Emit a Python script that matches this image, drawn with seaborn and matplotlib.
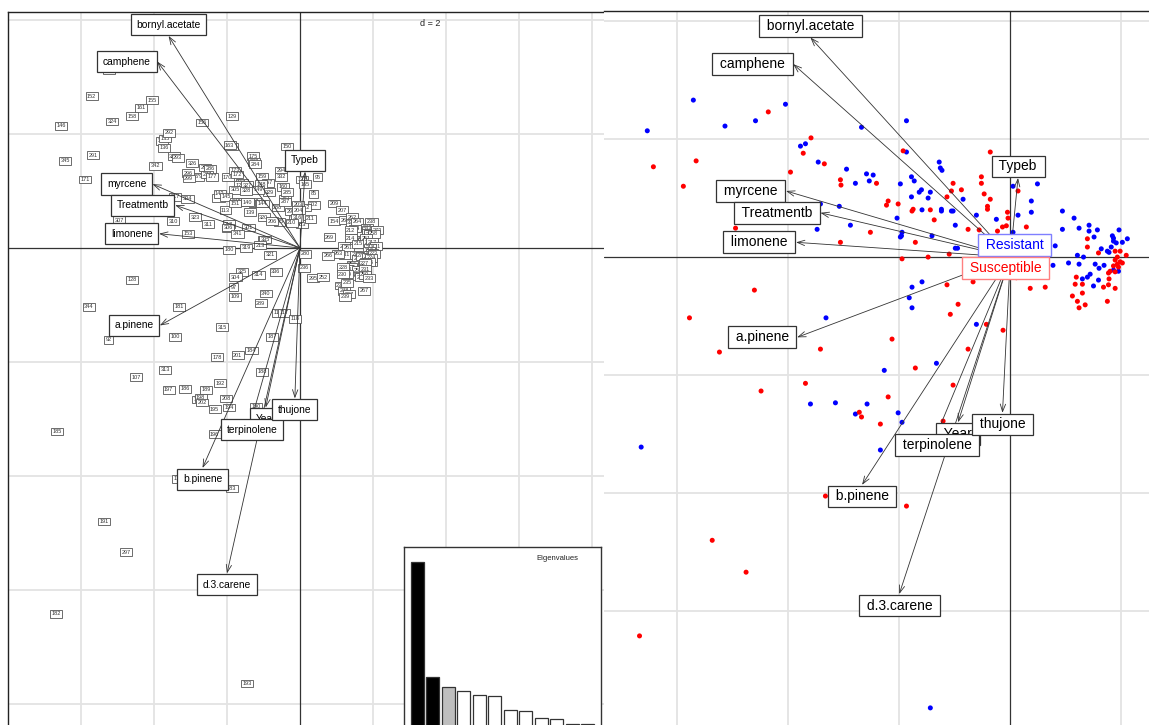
import numpy as np
import pandas as pd
import matplotlib
matplotlib.use("Agg")
import matplotlib.pyplot as plt
import seaborn as sns

sns.set_theme(style="white")
plt.rcParams['font.family'] = ['Liberation Sans', 'DejaVu Sans']

# Row scores on principal axes 1 and 2, Resistant trees
res_x = [-5.23, -5.71, -5.14, -4.59, -4.05, -6.54, -2.68, -3.78, -3.69, -3.46,
         -2.95, -2.79, -2.59, -2.47, -2.54, -1.98, -3.42, -3.08, -2.04, -2.88,
         -3.48, -1.95, -1.98, -1.87, -1.87, -1.28, -1.26, -1.23, -1.78, -1.73,
         -1.60, -1.64, -1.44, 0.49, 0.05, -0.85, -1.78, -1.48, -1.59, -1.24,
         -1.24, -1.06, -1.03, 0.38, 0.38, -0.61, 0.14, -0.25, -0.99, 0.05,
         0.94, 1.15, 0.94, 1.24, 1.42, 1.42, 1.57, 1.96, 1.84, 1.86,
         1.86, 1.91, 2.11, 2.02, 1.51, -1.96, -1.41, -0.99, -0.95, 0.81,
         1.64, 1.75, 1.78, 1.82, 1.21, 1.32, 1.24, 1.53, 1.60, 1.69,
         1.95, 1.86, 1.05, 1.44, 1.39, 1.30, 1.59, 1.50, 0.77, -1.59,
         -1.77, -1.82, -1.77, -0.61, -1.33, -3.32, -2.27, -3.60, -3.15, -2.58,
         -2.79, -2.02, -1.95, -2.34, -6.65, -1.44, 0.14]
res_y = [3.12, 2.66, 2.22, 2.31, 2.59, 2.14, 2.20, 1.88, 1.92, 1.61,
         1.49, 1.25, 1.41, 1.39, 1.29, 1.24, 0.90, 0.86, 0.66, 0.54,
         0.47, 0.42, 0.34, 2.31, 1.78, 1.61, 1.51, 1.47, 1.36, 1.29,
         1.14, 1.10, 1.10, 1.24, 1.20, 0.98, 1.02, 1.00, 0.80, 0.81,
         0.78, 0.78, 0.78, 0.95, 0.76, 0.71, 0.71, 0.64, 0.54, 0.42,
         0.78, 0.66, 0.47, 0.49, 0.54, 0.44, 0.46, 0.46, 0.36, 0.32,
         0.27, 0.24, 0.31, 0.25, 0.34, 0.36, 0.36, 0.15, 0.15, 0.19,
         0.14, 0.10, 0.08, 0.17, 0.03, 0.00, -0.12, -0.12, -0.19, -0.14,
         -0.24, -0.22, -0.10, -0.29, -0.34, -0.37, -0.39, -0.49, -0.14, -0.42,
         -0.51, -0.69, -0.86, -1.14, -1.80, -1.03, -1.92, -2.49, -2.47, -2.49,
         -2.66, -2.64, -2.80, -3.27, -3.22, -7.64, -0.10]
res_id = [176, 152, 324, 158, 155, 146, 156, 338, 135, 322,
          326, 279, 298, 286, 277, 170, 317, 334, 113, 323,
          310, 318, 339, 129, 138, 175, 282, 284, 173, 172,
          167, 122, 327, 95, 132, 329, 305, 328, 309, 142,
          147, 308, 144, 85, 302, 288, 312, 290, 320, 303,
          209, 207, 154, 260, 262, 330, 264, 238, 242, 244,
          253, 255, 273, 258, 254, 306, 301, 333, 335, 269,
          346, 247, 249, 251, 265, 261, 331, 270, 272, 274,
          275, 276, 263, 256, 259, 268, 257, 246, 266, 325,
          304, 97, 109, 110, 184, 181, 178, 197, 186, 189,
          199, 208, 194, 196, 185, 193, 280]

# Row scores on principal axes 1 and 2, Susceptible trees
sus_x = [-4.36, -6.43, -5.66, -5.89, -3.96, -3.59, -3.73, -3.35, -3.06, -3.05,
         -2.41, -1.93, -2.23, -2.20, -2.02, -2.52, -4.95, -3.06, -0.36, -1.03,
         -0.88, -1.06, -0.52, -0.52, -0.47, 0.14, -1.14, -1.75, -1.77, -1.44,
         -0.41, -0.41, -0.36, -1.37, -0.05, -0.04, -0.14, -0.07, -0.56, -0.76,
         -0.23, 0.29, 1.39, -1.71, -1.10, -1.48, -1.95, 1.39, 1.59, 1.89,
         1.98, 2.09, 1.93, 1.89, 1.98, 1.93, 1.86, 2.02, 1.95, 1.80,
         1.89, 1.77, 1.19, 1.30, 1.17, 1.78, 1.68, 1.77, 1.89, 1.12,
         1.30, 1.21, 1.35, 1.24, 1.75, 0.36, 0.63, -0.67, -1.14, -0.94,
         -1.08, -2.13, -0.43, -0.13, -0.76, -1.71, -4.61, -5.78, -5.24, -3.42,
         -4.49, -3.69, -2.72, -2.68, -2.34, -2.20, -1.03, -1.21, -3.33, -1.87,
         -5.37, -4.76, -6.68, 0.11, -0.82]
sus_y = [2.46, 1.53, 1.63, 1.20, 1.44, 2.02, 1.76, 1.58, 1.31, 1.22,
         1.25, 1.80, 0.88, 0.95, 0.90, 0.42, 0.49, 0.25, 1.78, 1.25,
         1.14, 1.12, 1.36, 1.25, 1.07, 1.12, 1.02, 0.81, 0.78, 0.80,
         0.86, 0.81, 0.98, 0.63, 0.76, 0.66, 0.51, 0.53, 0.46, 0.47,
         0.44, 0.51, 0.31, 0.25, 0.05, 0.00, -0.03, 0.17, 0.07, 0.10,
         0.10, 0.03, 0.00, -0.05, -0.08, -0.12, -0.15, -0.10, -0.17, -0.24,
         -0.25, -0.27, -0.34, -0.46, -0.46, -0.37, -0.51, -0.47, -0.53, -0.66,
         -0.61, -0.75, -0.81, -0.86, -0.75, -0.53, -0.51, -0.42, -0.47, -0.80,
         -0.97, -1.39, -1.14, -1.24, -1.56, -1.88, -0.56, -1.03, -1.61, -1.56,
         -2.27, -2.14, -2.63, -2.71, -2.83, -2.37, -2.17, -2.78, -4.05, -4.22,
         -4.80, -5.34, -6.42, -0.35, -0.12]
sus_id = [161, 345, 291, 171, 342, 292, 136, 293, 296, 299,
          177, 163, 141, 143, 145, 311, 307, 153, 150, 159,
          157, 148, 294, 332, 160, 165, 149, 343, 151, 140,
          283, 287, 285, 139, 203, 204, 337, 316, 205, 206,
          210, 211, 212, 341, 213, 319, 180, 214, 215, 216,
          217, 271, 218, 219, 220, 221, 222, 223, 224, 225,
          226, 227, 228, 229, 230, 231, 232, 250, 233, 234,
          235, 248, 237, 239, 267, 295, 252, 336, 314, 340,
          289, 315, 117, 118, 187, 201, 128, 344, 92, 100,
          107, 313, 198, 202, 195, 192, 188, 190, 179, 183,
          191, 297, 182, 236, 321]

# Group centroids (class labels)
groups = ["Resistant", "Susceptible"]
centroid_x = [0.08, -0.09]
centroid_y = [0.20, -0.19]
group_colors = {"Resistant": "blue", "Susceptible": "red"}
group_edges = {"Resistant": "#7f7fff", "Susceptible": "#ff8080"}

# Variable coordinates (arrows)
variables = ["bornyl.acetate", "camphene", "myrcene", "Treatmentb", "limonene",
             "a.pinene", "b.pinene", "Year", "terpinolene", "d.3.carene",
             "thujone", "Typeb"]
load_x = [-3.60, -3.91, -4.04, -3.42, -3.86, -3.84, -2.67, -0.94, -1.32, -2.00, -0.14, 0.14]
load_y = [3.72, 3.27, 1.12, 0.75, 0.25, -1.36, -3.86, -2.80, -2.99, -5.71, -2.64, 1.34]

# Eigenvalues of the PCA
eigenvalues = [3.90, 1.35, 1.13, 1.04, 0.95, 0.93, 0.62, 0.60, 0.44, 0.42, 0.31, 0.31]
n_kept = 2

scores = pd.DataFrame({
    "x": res_x + sus_x,
    "y": res_y + sus_y,
    "id": res_id + sus_id,
    "group": ["Resistant"] * len(res_x) + ["Susceptible"] * len(sus_x),
})

W, H = 1149, 725
fig = plt.figure(figsize=(W / 100, H / 100), dpi=100)
fig.patch.set_facecolor("white")


def px_rect(x0, y0, x1, y1):
    return [x0 / W, 1 - y1 / H, (x1 - x0) / W, (y1 - y0) / H]


def base_axes(ax, xlim, ylim, spines):
    ax.set_xlim(*xlim)
    ax.set_ylim(*ylim)
    ax.set_xticks([])
    ax.set_yticks([])
    ax.set_xlabel("")
    ax.set_ylabel("")
    ax.set_facecolor("white")
    for side, sp in ax.spines.items():
        sp.set_visible(side in spines)
        sp.set_color("#222222")
        sp.set_linewidth(1.0)
    for g in np.arange(-10, 11, 2):
        if g == 0:
            continue
        ax.axvline(g, color="#e3e3e3", lw=1.3, zorder=0)
        ax.axhline(g, color="#e3e3e3", lw=1.3, zorder=0)
    ax.axvline(0, color="#333333", lw=0.9, zorder=1)
    ax.axhline(0, color="#333333", lw=0.9, zorder=1)


def draw_arrows(ax, fontsize, label_fmt, pad):
    for vx, vy in zip(load_x, load_y):
        ax.annotate("", xy=(vx, vy), xytext=(0, 0),
                    arrowprops=dict(arrowstyle="->,head_length=0.45,head_width=0.16",
                                    color="#333333", lw=0.6, shrinkA=0, shrinkB=0),
                    zorder=4)
    off = pad * fontsize + 0.5
    for name, vx, vy in zip(variables, load_x, load_y):
        if vx > vy and vx > -vy:
            ha, va, dxy = "left", "center", (off, 0)
        elif vx > vy and vx <= -vy:
            ha, va, dxy = "center", "top", (0, -off)
        elif vx <= vy and vx <= -vy:
            ha, va, dxy = "right", "center", (-off, 0)
        else:
            ha, va, dxy = "center", "bottom", (0, off)
        ax.annotate(label_fmt.format(name), xy=(vx, vy), xytext=dxy,
                    textcoords="offset points", ha=ha, va=va,
                    fontsize=fontsize, color="black", zorder=6,
                    bbox=dict(boxstyle=f"square,pad={pad}", fc="white",
                              ec="#333333", lw=0.9))


# ---- left panel: row labels biplot ----
axL = fig.add_axes(px_rect(8, 12, 604, H))
base_axes(axL, (-8.0, 8.33), (-8.37, 4.14), ["top", "left"])
for _, r in scores.iterrows():
    axL.text(r["x"], r["y"], str(r["id"]), fontsize=4.0, color="#333333",
             ha="center", va="center", zorder=3,
             bbox=dict(boxstyle="square,pad=0.25", fc="white", ec="#555555", lw=0.6))
draw_arrows(axL, 7.4, "{}", 0.55)
axL.text(430 / W, 1 - 24 / H, "d = 2", transform=fig.transFigure, fontsize=6.5,
         ha="center", va="center", color="#222222", zorder=7)

# eigenvalue inset
axE = fig.add_axes(px_rect(404, 547, 601, 745))
bar_colors = ["black"] * n_kept + ["#bebebe"] + ["white"] * (len(eigenvalues) - n_kept - 1)
axE.bar(np.arange(len(eigenvalues)), eigenvalues, width=0.83, color=bar_colors,
        edgecolor="#333333", linewidth=0.9)
axE.set_xlim(-0.86, len(eigenvalues) - 0.14)
axE.set_ylim(-0.155, 4.23)
axE.set_xticks([])
axE.set_yticks([])
axE.set_facecolor("white")
for sp in axE.spines.values():
    sp.set_color("#333333")
    sp.set_linewidth(1.0)
axE.text(0.78, 0.96, "Eigenvalues", transform=axE.transAxes, fontsize=5.5,
         ha="center", va="top", color="#222222")

# ---- right panel: points coloured by group ----
axR = fig.add_axes(px_rect(604, 11, W, H))
base_axes(axR, (-7.32, 2.50), (-7.93, 4.17), ["top"])
sns.scatterplot(data=scores, x="x", y="y", hue="group", palette=group_colors,
                s=13, edgecolor="none", legend=False, ax=axR, zorder=3)
axR.set_xlabel("")
axR.set_ylabel("")
draw_arrows(axR, 10, " {} ", 0.28)
for g, cx, cy in zip(groups, centroid_x, centroid_y):
    axR.text(cx, cy, f" {g} ", fontsize=10, color=group_colors[g],
             ha="center", va="center", zorder=8,
             bbox=dict(boxstyle="square,pad=0.28", fc="white",
                       ec=group_edges[g], lw=1.0))

fig.savefig("out.png", dpi=100, facecolor="white")
